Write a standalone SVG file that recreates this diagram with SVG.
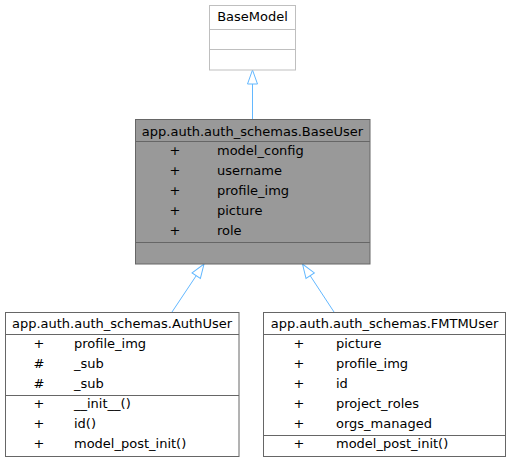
<svg xmlns="http://www.w3.org/2000/svg" width="511" height="463" viewBox="0 0 511 463">
<style>
text { font-family: "DejaVu Sans", "Liberation Sans", sans-serif; font-size: 13px; fill: #000; }
.t { text-anchor: middle; }
.v { text-anchor: middle; }
.box { fill: #ffffff; stroke: #666666; stroke-width: 1; }
.ext { fill: #ffffff; stroke: #bfbfbf; stroke-width: 1; }
.cur { fill: #999999; stroke: #666666; stroke-width: 1; }
.div { stroke: #666666; stroke-width: 1; fill: none; }
.divx { stroke: #bfbfbf; stroke-width: 1; fill: none; }
.edge { stroke: #63b8ff; stroke-width: 1; fill: none; }
</style>
<defs>
<marker id="tri" markerUnits="userSpaceOnUse" markerWidth="17" markerHeight="13" viewBox="-1 -6.5 17 13" refX="14" refY="0" orient="auto">
<path d="M0,-5 L14,0 L0,5 z" fill="#ffffff" stroke="#63b8ff" stroke-width="1"/>
</marker>
</defs>
<g id="edges">
<path class="edge" d="M252.5,119 L252.5,70" marker-end="url(#tri)"/>
<path class="edge" d="M172,312 L204,264" marker-end="url(#tri)"/>
<path class="edge" d="M334,312 L302.5,264" marker-end="url(#tri)"/>
</g>
<g id="BaseModel">
<rect class="ext" x="209.5" y="5.5" width="86" height="64.5"/>
<path class="divx" d="M209.5,29.5 H295.5 M209.5,49.5 H295.5"/>
<text class="t" x="252.5" y="21">BaseModel</text>
</g>
<g id="BaseUser">
<rect class="cur" x="135.5" y="119.5" width="234.5" height="144.5"/>
<path class="div" d="M135.5,141.5 H370 M135.5,242.5 H370"/>
<text class="t" x="252.5" y="136">app.auth.auth_schemas.BaseUser</text>
<text class="v" x="175" y="155">+</text><text x="217" y="155">model_config</text>
<text class="v" x="175" y="175">+</text><text x="217" y="175">username</text>
<text class="v" x="175" y="195">+</text><text x="217" y="195">profile_img</text>
<text class="v" x="175" y="215">+</text><text x="217" y="215">picture</text>
<text class="v" x="175" y="235">+</text><text x="217" y="235">role</text>
</g>
<g id="AuthUser">
<rect class="box" x="5.5" y="312.5" width="233.5" height="144"/>
<path class="div" d="M5.5,334.5 H239 M5.5,395.5 H239"/>
<text class="t" x="122" y="328">app.auth.auth_schemas.AuthUser</text>
<text class="v" x="39" y="348">+</text><text x="74" y="348">profile_img</text>
<text class="v" x="39" y="368">#</text><text x="74" y="368">_sub</text>
<text class="v" x="39" y="388">#</text><text x="74" y="388">_sub</text>
<text class="v" x="39" y="408">+</text><text x="74" y="408">__init__()</text>
<text class="v" x="39" y="428">+</text><text x="74" y="428">id()</text>
<text class="v" x="39" y="448">+</text><text x="74" y="448">model_post_init()</text>
</g>
<g id="FMTMUser">
<rect class="box" x="263.5" y="312.5" width="242" height="144"/>
<path class="div" d="M263.5,334.5 H505.5 M263.5,435.5 H505.5"/>
<text class="t" x="384.5" y="328">app.auth.auth_schemas.FMTMUser</text>
<text class="v" x="299" y="348">+</text><text x="336" y="348">picture</text>
<text class="v" x="299" y="368">+</text><text x="336" y="368">profile_img</text>
<text class="v" x="299" y="388">+</text><text x="336" y="388">id</text>
<text class="v" x="299" y="408">+</text><text x="336" y="408">project_roles</text>
<text class="v" x="299" y="428">+</text><text x="336" y="428">orgs_managed</text>
<text class="v" x="299" y="448">+</text><text x="336" y="448">model_post_init()</text>
</g>
</svg>
